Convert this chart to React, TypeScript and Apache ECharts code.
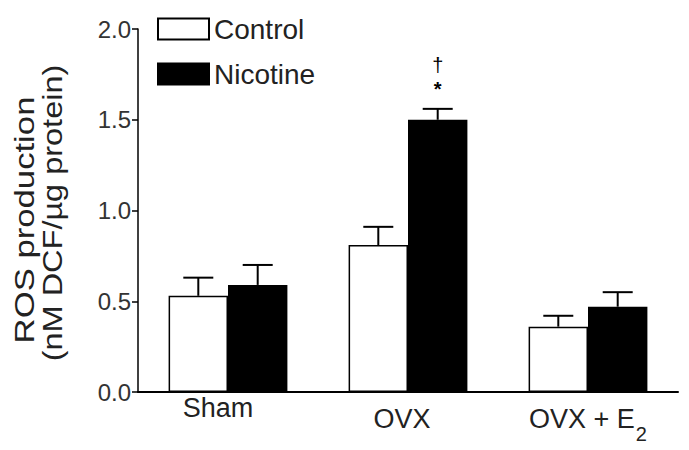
import React, { useEffect, useRef } from "react";
import * as echarts from "echarts";

const categories = ["Sham", "OVX", "OVX + E{sub|2}"];
const controlValues = [0.53, 0.81, 0.36];
const controlErrors = [0.1, 0.1, 0.06];
const nicotineValues = [0.59, 1.5, 0.47];
const nicotineErrors = [0.11, 0.06, 0.08];
const nicotineMarks = ["", "{a|†}\n{b|*}", ""];
const yTitleLines = ["ROS production", "(nM DCF/µg protein)"];
const yTicks = { min: 0, max: 2, interval: 0.5 };

const FONT = "Liberation Sans, Arial, sans-serif";

export default function App() {
  const ref = useRef<HTMLDivElement>(null);
  useEffect(() => {
    const chart = echarts.init(ref.current!, undefined, { renderer: "svg" });
    const errData: any[] = [];
    controlValues.forEach((v, i) => errData.push([i, v, controlErrors[i], -1]));
    nicotineValues.forEach((v, i) => errData.push([i, v, nicotineErrors[i], 1]));
    const labelShift = [20, 12, 0];
    chart.setOption({
      animation: false,
      textStyle: { fontFamily: FONT },
      grid: { left: 138, right: 11, top: 29, bottom: 58 },
      graphic: [
        {
          type: "text",
          x: 24,
          y: 220,
          rotation: Math.PI / 2,
          scaleX: 1.24,
          style: {
            text: yTitleLines[0],
            font: "28px Liberation Sans, Arial, sans-serif",
            fill: "#222",
            align: "center",
            verticalAlign: "middle",
          },
        },
        {
          type: "text",
          x: 52,
          y: 213,
          rotation: Math.PI / 2,
          scaleX: 1.16,
          style: {
            text: yTitleLines[1],
            font: "28px Liberation Sans, Arial, sans-serif",
            fill: "#222",
            align: "center",
            verticalAlign: "middle",
          },
        },
      ],
      legend: {
        orient: "vertical",
        left: 157,
        top: 15,
        padding: 0,
        itemWidth: 51,
        itemHeight: 21,
        itemGap: 17,
        icon: "rect",
        textStyle: { fontSize: 28, lineHeight: 27, color: "#222", fontFamily: FONT },
        data: ["Control", "Nicotine"],
      },
      xAxis: {
        type: "category",
        data: categories.map((c, i) => ({
          value: c,
          textStyle: { padding: [0, labelShift[i], 0, 0] },
        })),
        axisLine: { lineStyle: { color: "#000", width: 2 } },
        axisTick: { show: false },
        axisLabel: {
          interval: 0,
          margin: 2,
          fontSize: 27,
          lineHeight: 27,
          color: "#222",
          fontFamily: FONT,
          formatter: (v: string) =>
            v === "Sham"
              ? v
              : "{d|" + v.replace("{sub|2}", "") + "}" + (v.indexOf("{sub|2}") >= 0 ? "{sub|2}" : ""),
          rich: {
            d: { fontSize: 27, lineHeight: 50, color: "#222", fontFamily: FONT },
            sub: { fontSize: 20, lineHeight: 26, color: "#222", verticalAlign: "bottom", padding: [0, 0, 0, 1], fontFamily: FONT },
          },
        },
      },
      yAxis: {
        type: "value",
        min: yTicks.min,
        max: yTicks.max,
        interval: yTicks.interval,
        axisLine: { show: true, lineStyle: { color: "#000", width: 1.5 } },
        axisTick: { show: true, length: 6, lineStyle: { color: "#000", width: 1.5 } },
        splitLine: { show: false },
        axisLabel: {
          fontSize: 24,
          color: "#333",
          margin: 7,
          fontFamily: FONT,
          formatter: (v: number) => v.toFixed(1),
        },
      },
      series: [
        {
          name: "Control",
          type: "bar",
          barWidth: "33%",
          barGap: "0%",
          itemStyle: { color: "#fff", borderColor: "#000", borderWidth: 1.5 },
          data: controlValues,
        },
        {
          name: "Nicotine",
          type: "bar",
          barWidth: "33%",
          barGap: "0%",
          itemStyle: { color: "#000", borderColor: "#000", borderWidth: 1.5 },
          data: nicotineValues.map((v, i) => ({
            value: v,
            label: {
              show: nicotineMarks[i] !== "",
              formatter: nicotineMarks[i],
              position: "top",
              distance: 20,
              color: "#000",
              fontFamily: FONT,
              rich: {
                a: { fontSize: 20, lineHeight: 26, color: "#000", fontFamily: FONT },
                b: { fontSize: 20, lineHeight: 22, color: "#000", fontWeight: "bold", fontFamily: FONT },
              },
            },
          })),
        },
        {
          type: "custom",
          silent: true,
          z: 1,
          renderItem: (params: any, api: any) => {
            const idx = api.value(0);
            const val = api.value(1);
            const err = api.value(2);
            const side = api.value(3);
            const band = api.size([1, 0])[0];
            const base = api.coord([idx, val]);
            const top = api.coord([idx, val + err]);
            const x = base[0] + side * band * 0.165;
            const half = 15;
            const style = { stroke: "#000", lineWidth: 2 };
            return {
              type: "group",
              children: [
                { type: "line", shape: { x1: x, y1: base[1], x2: x, y2: top[1] }, style },
                { type: "line", shape: { x1: x - half, y1: top[1], x2: x + half, y2: top[1] }, style },
              ],
            };
          },
          data: errData,
        },
      ],
    });
    return () => chart.dispose();
  }, []);
  return <div ref={ref} style={{ position: "fixed", left: 0, top: 0, width: 689, height: 450, background: "#fff" }} />;
}
